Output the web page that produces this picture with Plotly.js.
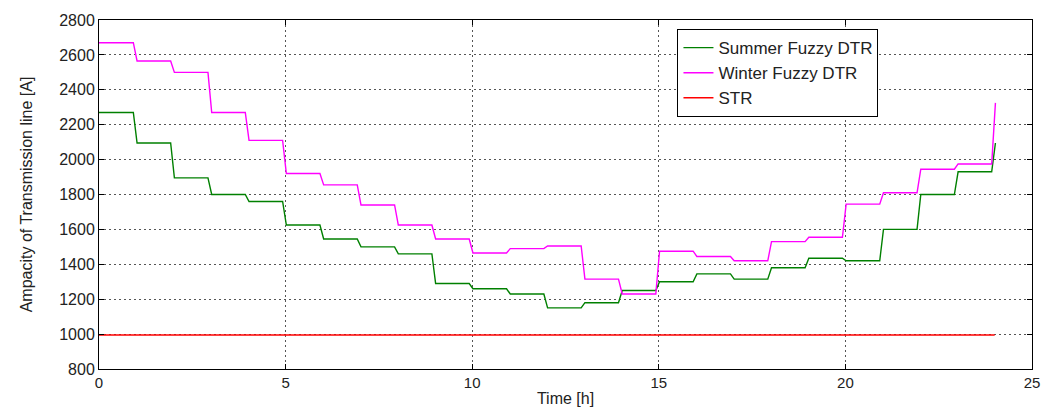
<!DOCTYPE html>
<html>
<head>
<meta charset="utf-8">
<script src="https://cdn.plot.ly/plotly-3.0.1.min.js"></script>
<style>
html,body{margin:0;padding:0;background:#fff;}
#chart{width:1046px;height:409px;}
</style>
</head>
<body>
<div id="chart"></div>
<script>
// Hourly values (value held during hour h..h+1; last entry is the end value at 24 h)
const hours = [0,1,2,3,4,5,6,7,8,9,10,11,12,13,14,15,16,17,18,19,20,21,22,23,24];
const summerFuzzyDTR = [2270,2095,1895,1800,1760,1625,1545,1500,1460,1290,1260,1230,1150,1180,1250,1300,1345,1315,1380,1435,1420,1600,1800,1930,2095];
const winterFuzzyDTR = [2670,2565,2500,2270,2110,1920,1855,1740,1625,1545,1465,1490,1505,1315,1230,1475,1445,1420,1530,1555,1745,1810,1945,1975,2325];
const strValue = [995,995];
const strHours = [0,24];

const xTicks = [0,5,10,15,20,25];
const yTicks = [800,1000,1200,1400,1600,1800,2000,2200,2400,2600,2800];

function stepped(vals){
  const xs=[hours[0]], ys=[vals[0]];
  for(let i=1;i<vals.length;i++){
    xs.push(hours[i]-0.08, hours[i]+0.02);
    ys.push(vals[i-1], vals[i]);
  }
  return {x:xs,y:ys};
}
const s = stepped(summerFuzzyDTR);
const w = stepped(winterFuzzyDTR);

const font = "Liberation Sans, Arial, sans-serif";
const traces = [
  {x:s.x, y:s.y, mode:'lines', name:'Summer Fuzzy DTR', line:{color:'#008000', width:1.4}},
  {x:w.x, y:w.y, mode:'lines', name:'Winter Fuzzy DTR', line:{color:'#ff00ff', width:1.4}},
  {x:strHours, y:strValue, mode:'lines', name:'STR', line:{color:'#ff0000', width:1.4}}
];

const axisCommon = {
  showline:true, linecolor:'#000', linewidth:1, mirror:'ticks',
  ticks:'inside', ticklen:5, tickcolor:'#000',
  showgrid:true, gridcolor:'#555', gridwidth:1, griddash:'2px,3px',
  zeroline:false
};

const layout = {
  width:1046, height:409,
  margin:{l:99, r:14, t:20, b:40},
  paper_bgcolor:'#fff', plot_bgcolor:'#fff',
  showlegend:true,
  legend:{x:0.62, y:0.974, xanchor:'left', yanchor:'top',
    bgcolor:'#fff', bordercolor:'#000', borderwidth:1, entrywidth:230, entrywidthmode:'pixels',
    font:{family:font, size:17, color:'#222'}, tracegroupgap:0},
  xaxis:Object.assign({}, axisCommon, {
    range:[0,25], tickvals:xTicks, ticktext:xTicks.map(String),
    tickfont:{family:font, size:15, color:'#222'},
    title:{text:'Time [h]', font:{family:font, size:16, color:'#222'}, standoff:2}
  }),
  yaxis:Object.assign({}, axisCommon, {
    range:[800,2800], tickvals:yTicks, ticktext:yTicks.map(String),
    tickfont:{family:font, size:16, color:'#222'},
    title:{text:'Ampacity of Transmission line [A]', font:{family:font, size:16, color:'#222'}, standoff:22}
  }),
  hovermode:false
};

Plotly.newPlot('chart', traces, layout, {displayModeBar:false, staticPlot:true});
</script>
</body>
</html>
